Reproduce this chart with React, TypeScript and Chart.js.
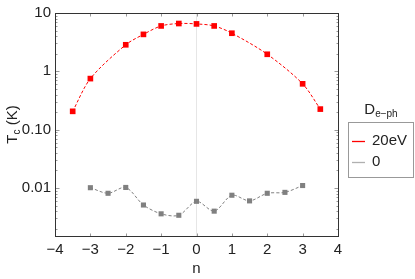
import React, { useEffect, useRef } from "react";
import { Chart, registerables } from "chart.js";

Chart.register(...registerables);

const nRed = [-3.5, -3, -2, -1.5, -1, -0.5, 0, 0.5, 1, 2, 3, 3.5];
const tcRed = [0.206, 0.75, 2.85, 4.3, 6.0, 6.6, 6.5, 6.0, 4.5, 1.96, 0.61, 0.225];
const nGray = [-3, -2.5, -2, -1.5, -1, -0.5, 0, 0.5, 1, 1.5, 2, 2.5, 3];
const tcGray = [0.0101, 0.0081, 0.0102, 0.0051, 0.0036, 0.0034, 0.0059, 0.004, 0.0075, 0.006, 0.0081, 0.0084, 0.011];
const seriesLabels = ["20eV", "0"];
const yTickValues = [0.01, 0.1, 1, 10];
const yTickLabels = ["0.01", "0.10", "1", "10"];
const yMinorTicks = [0.002, 0.003, 0.004, 0.005, 0.006, 0.007, 0.008, 0.009, 0.02, 0.03, 0.04, 0.05, 0.06, 0.07, 0.08, 0.09, 0.2, 0.3, 0.4, 0.5, 0.6, 0.7, 0.8, 0.9, 2, 3, 4, 5, 6, 7, 8, 9];

const FONT = "'Liberation Sans', Arial, sans-serif";
const FS = 15;

const framePlugin = {
  id: "frameAndLabels",
  afterDraw(chart: any) {
    const { ctx, chartArea } = chart;
    const L = Math.round(chartArea.left) + 0.5;
    const T = Math.round(chartArea.top) + 0.5;
    const R = Math.round(chartArea.right) + 0.5;
    const B = Math.round(chartArea.bottom) + 0.5;
    ctx.save();
    // minor/major inward ticks
    const ys = chart.scales.y;
    const xs = chart.scales.x;
    ctx.strokeStyle = "#999999";
    ctx.lineWidth = 1;
    ctx.beginPath();
    yMinorTicks.forEach((v) => {
      const py = Math.round(ys.getPixelForValue(v)) + 0.5;
      ctx.moveTo(L, py);
      ctx.lineTo(L + 2, py);
      ctx.moveTo(R, py);
      ctx.lineTo(R - 2, py);
    });
    yTickValues.forEach((v) => {
      const py = Math.round(ys.getPixelForValue(v)) + 0.5;
      ctx.moveTo(L, py);
      ctx.lineTo(L + 4, py);
      ctx.moveTo(R, py);
      ctx.lineTo(R - 4, py);
    });
    xs.ticks.forEach((t: any) => {
      const px = Math.round(xs.getPixelForValue(t.value)) + 0.5;
      ctx.moveTo(px, B);
      ctx.lineTo(px, B - 3);
      ctx.moveTo(px, T);
      ctx.lineTo(px, T + 3);
    });
    ctx.stroke();
    // frame
    ctx.strokeStyle = "#333333";
    ctx.lineWidth = 1;
    ctx.strokeRect(L, T, R - L, B - T);
    // y axis title: T_c (K), rotated
    ctx.fillStyle = "#222222";
    ctx.translate(13, (chartArea.top + chartArea.bottom) / 2);
    ctx.rotate(-Math.PI / 2);
    ctx.textBaseline = "middle";
    ctx.font = `${FS}px ${FONT}`;
    const wT = ctx.measureText("T").width;
    ctx.font = `10px ${FONT}`;
    const wc = ctx.measureText("c").width;
    ctx.font = `${FS}px ${FONT}`;
    const wK = ctx.measureText(" (K)").width;
    const total = wT + wc + wK;
    let x = -total / 2;
    ctx.textAlign = "left";
    ctx.fillText("T", x, 0);
    x += wT;
    ctx.font = `10px ${FONT}`;
    ctx.fillText("c", x, 4);
    x += wc;
    ctx.font = `${FS}px ${FONT}`;
    ctx.fillText(" (K)", x, 0);
    ctx.restore();

    // legend
    ctx.save();
    const lx = 348, ly = 122, lw = 65, lh = 55;
    ctx.strokeStyle = "#999999";
    ctx.lineWidth = 1;
    ctx.strokeRect(lx + 0.5, ly + 0.5, lw, lh);
    ctx.fillStyle = "#222222";
    ctx.textBaseline = "middle";
    ctx.font = `${FS}px ${FONT}`;
    const wD = ctx.measureText("D").width;
    ctx.font = `10px ${FONT}`;
    const wsub = ctx.measureText("e\u2212ph").width;
    const tx = 381 - (wD + wsub) / 2;
    ctx.font = `${FS}px ${FONT}`;
    ctx.textAlign = "left";
    ctx.fillText("D", tx, 110);
    ctx.font = `10px ${FONT}`;
    ctx.fillText("e\u2212ph", tx + wD, 114);
    const colors = ["#ff0000", "#b0b0b0"];
    const lys = [141, 162];
    ctx.font = `${FS}px ${FONT}`;
    seriesLabels.forEach((lab, i) => {
      ctx.strokeStyle = colors[i];
      ctx.lineWidth = 1.3;
      ctx.beginPath();
      ctx.moveTo(352, lys[i] + 0.5);
      ctx.lineTo(365, lys[i] + 0.5);
      ctx.stroke();
      ctx.fillStyle = "#222222";
      ctx.fillText(lab, 372, lys[i]);
    });
    ctx.restore();
  },
};

export default function App() {
  const ref = useRef<HTMLCanvasElement>(null);
  useEffect(() => {
    if (!ref.current) return;
    const chart = new Chart(ref.current, {
      type: "line",
      data: {
        datasets: [
          {
            label: seriesLabels[0],
            data: nRed.map((n, i) => ({ x: n, y: tcRed[i] })),
            borderColor: "#ff0000",
            backgroundColor: "#ff0000",
            borderWidth: 1,
            borderDash: [3, 2],
            pointStyle: "rect",
            pointRadius: 4,
            pointBorderWidth: 0,
            tension: 0.3,
          },
          {
            label: seriesLabels[1],
            data: nGray.map((n, i) => ({ x: n, y: tcGray[i] })),
            borderColor: "#808080",
            backgroundColor: "#808080",
            borderWidth: 1,
            borderDash: [3, 2],
            pointStyle: "rect",
            pointRadius: 3.6,
            pointBorderWidth: 0,
            tension: 0.3,
          },
        ],
      },
      options: {
        animation: false,
        responsive: false,
        maintainAspectRatio: false,
        layout: { padding: { left: 0, right: 77, top: 9, bottom: 0 } },
        plugins: { legend: { display: false }, tooltip: { enabled: false } },
        scales: {
          x: {
            type: "linear",
            min: -4,
            max: 4,
            afterFit(scale: any) {
              scale.height = 43;
            },
            ticks: {
              stepSize: 1,
              padding: 5,
              color: "#222222",
              font: { family: FONT, size: FS },
              callback: (v: any) => String(v).replace("-", "\u2212"),
            },
            grid: {
              drawTicks: false,
              color: (c: any) => (c.tick && c.tick.value === 0 ? "#e6e6e6" : "transparent"),
            },
            border: { display: false },
            title: {
              display: true,
              text: "n",
              color: "#222222",
              font: { family: FONT, size: FS },
              padding: { top: 0, bottom: 1 },
            },
          },
          y: {
            type: "logarithmic",
            min: 0.0015,
            max: 10,
            afterFit(scale: any) {
              scale.width = 55;
            },
            afterBuildTicks(scale: any) {
              scale.ticks = yTickValues.map((v) => ({ value: v }));
            },
            ticks: {
              padding: 4,
              color: "#222222",
              font: { family: FONT, size: FS },
              callback: (v: any) => {
                const i = yTickValues.indexOf(Number(v));
                return i >= 0 ? yTickLabels[i] : "";
              },
            },
            grid: { display: false, drawTicks: false },
            border: { display: false },
          },
        },
      },
      plugins: [framePlugin],
    });
    return () => chart.destroy();
  }, []);
  return (
    <div style={{ position: "fixed", left: 0, top: 0, width: 415, height: 279, background: "#fff" }}>
      <canvas ref={ref} width={415} height={279} style={{ width: 415, height: 279 }} />
    </div>
  );
}
